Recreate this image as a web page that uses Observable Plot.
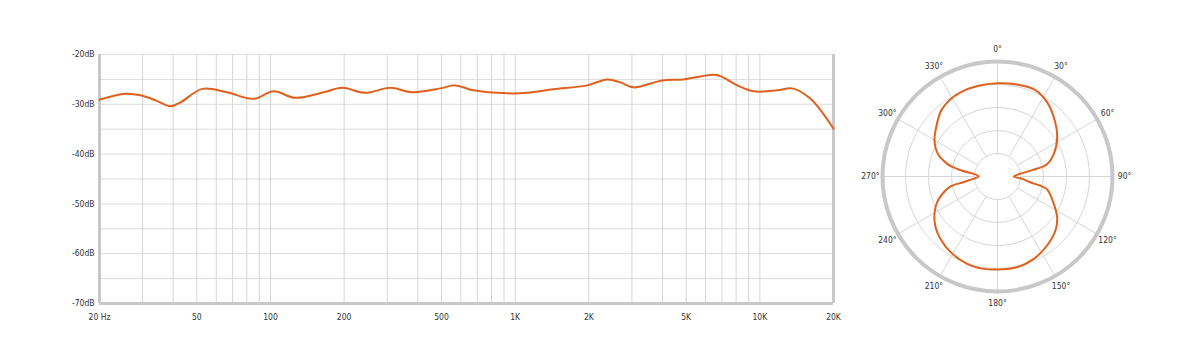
<!DOCTYPE html>
<html>
<head>
<meta charset="utf-8">
<script src="https://cdn.jsdelivr.net/npm/d3@7"></script>
<script src="https://cdn.jsdelivr.net/npm/@observablehq/plot@0.6"></script>
<style>
  html, body { margin: 0; padding: 0; background: #fff; }
  #wrap { display: flex; width: 1200px; height: 361px; }
  #wrap svg { display: block; }
</style>
</head>
<body>
<div id="wrap"><div id="freq"></div><div id="polar"></div></div>
<script>
// ---- Frequency response data ----
const freqs = [20, 25.5, 29.4, 33.9, 39, 42.9, 52.6, 66.5, 85, 103, 126, 165, 196, 244, 309, 379, 495, 570, 675, 928, 1119, 1434, 1968, 2378, 2692, 3054, 3988, 4874, 5718, 6692, 8081, 9446, 11776, 13556, 16100, 20000];
const levels = [-29.1, -27.9, -28.2, -29.2, -30.4, -29.6, -26.9, -27.6, -28.9, -27.4, -28.7, -27.6, -26.7, -27.7, -26.7, -27.6, -26.8, -26.2, -27.2, -27.8, -27.7, -27.0, -26.2, -25.0, -25.6, -26.6, -25.2, -25.0, -24.4, -24.1, -26.2, -27.4, -27.2, -26.8, -28.9, -34.9];

const freqGrid = [30, 40, 50, 60, 70, 80, 90, 100, 200, 300, 400, 500, 600, 700, 800, 900, 1000, 2000, 3000, 4000, 5000, 6000, 7000, 8000, 9000, 10000];
const xTicks = [20, 50, 100, 200, 500, 1000, 2000, 5000, 10000, 20000];
const xLabels = ["20 Hz", "50", "100", "200", "500", "1K", "2K", "5K", "10K", "20K"];
const dbGrid = [-20, -25, -30, -35, -40, -45, -50, -55, -60, -65];
const yTicks = [-20, -30, -40, -50, -60, -70];

// ---- Polar pattern data (angle in degrees, normalized radius) ----
const angles = [0, 22.5, 33.7, 45.7, 56.6, 68.1, 76.2, 79.7, 84.2, 90, 95, 100, 102.5, 105, 115.9, 124.3, 133, 144.3, 156.2, 167.8, 180, 188.4, 199.2, 211.8, 222.4, 230.7, 239.4, 247, 254.9, 258, 260.4, 264, 270, 276.4, 279.2, 282, 284.1, 290.8, 299.7, 306.6, 320.7, 336.3];
const radii  = [0.811, 0.822, 0.777, 0.696, 0.622, 0.528, 0.44, 0.30, 0.18, 0.142, 0.21, 0.29, 0.39, 0.45, 0.544, 0.628, 0.689, 0.739, 0.783, 0.807, 0.809, 0.812, 0.804, 0.774, 0.735, 0.696, 0.637, 0.570, 0.469, 0.42, 0.31, 0.22, 0.163, 0.207, 0.31, 0.40, 0.451, 0.555, 0.631, 0.671, 0.760, 0.80];
const rings = [0.2, 0.4, 0.6, 0.8];
const spokeAngles = [0, 30, 60, 90, 120, 150, 180, 210, 240, 270, 300, 330];

const font = "'DejaVu Sans Condensed', 'DejaVu Sans', sans-serif";
const orange = "#e0601d";
const axisGray = "#c8c8c8";
const gridGray = "#dcdcdc";

const responseData = freqs.map((f, i) => ({f, db: levels[i]}));

const freqPlot = Plot.plot({
  width: 850,
  height: 361,
  marginLeft: 99,
  marginRight: 17,
  marginTop: 54,
  marginBottom: 58,
  style: {fontFamily: font, fontSize: "8.5px", color: "#333", background: "#fff", fontStretch: "condensed"},
  x: {type: "log", domain: [20, 20000], axis: null},
  y: {domain: [-70, -20]},
  marks: [
    Plot.ruleY(dbGrid, {stroke: gridGray, strokeWidth: 1}),
    Plot.ruleX(freqGrid, {stroke: "#d6d6d6", strokeWidth: 1}),
    Plot.ruleX([20, 20000], {stroke: axisGray, strokeWidth: 3}),
    Plot.ruleY([-70], {stroke: axisGray, strokeWidth: 3}),
    Plot.text(xTicks, {x: d => d, y: () => -70, dy: 14, text: d => xLabels[xTicks.indexOf(d)], fill: "#333"}),
    Plot.axisY(yTicks, {tickSize: 0, tickPadding: 5, tickFormat: d => `${d}dB`, label: null}),
    Plot.line(responseData, {x: "f", y: "db", stroke: orange, strokeWidth: 2, curve: "catmull-rom"})
  ]
});
document.getElementById("freq").appendChild(freqPlot);

const rad = a => a * Math.PI / 180;
const pattern = angles.map((a, i) => ({x: radii[i] * Math.sin(rad(a)), y: radii[i] * Math.cos(rad(a))}));

const polarPlot = Plot.plot({
  width: 350,
  height: 361,
  margin: 0,
  style: {fontFamily: font, fontSize: "8.5px", color: "#333", background: "#fff", fontStretch: "condensed"},
  x: {domain: [-1, 1], range: [32, 262], axis: null},
  y: {domain: [-1, 1], range: [291, 61], axis: null},
  r: {type: "identity"},
  marks: [
    Plot.dot(rings, {x: () => 0, y: () => 0, r: d => d * 115, stroke: "#d6d6d6", fill: "none", strokeWidth: 1}),
    Plot.link(spokeAngles, {
      x1: a => 0.2 * Math.sin(rad(a)), y1: a => 0.2 * Math.cos(rad(a)),
      x2: a => Math.sin(rad(a)), y2: a => Math.cos(rad(a)),
      stroke: "#d6d6d6", strokeWidth: 1
    }),
    Plot.dot([1], {x: () => 0, y: () => 0, r: d => d * 115, stroke: axisGray, fill: "none", strokeWidth: 4}),
    Plot.text(spokeAngles, {
      x: a => 1.105 * Math.sin(rad(a)), y: a => 1.105 * Math.cos(rad(a)),
      text: a => `${a}°`, fill: "#333"
    }),
    Plot.line(pattern, {x: "x", y: "y", stroke: orange, strokeWidth: 2, curve: "catmull-rom-closed"})
  ]
});
document.getElementById("polar").appendChild(polarPlot);
</script>
</body>
</html>
